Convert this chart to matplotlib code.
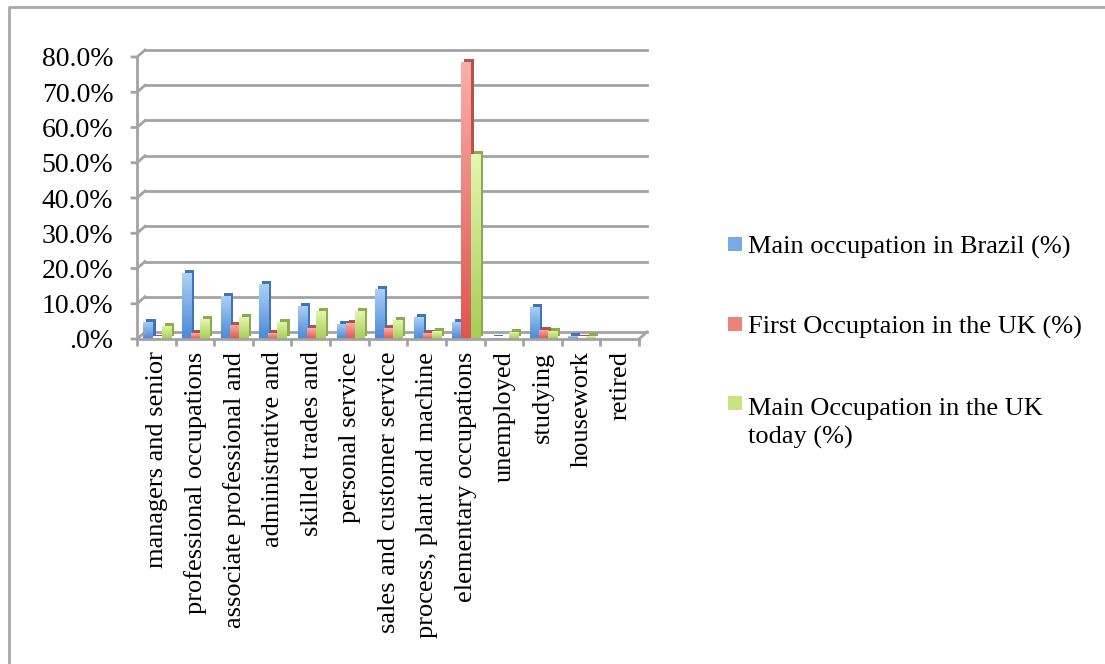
import matplotlib
matplotlib.use("Agg")
import matplotlib.pyplot as plt
import matplotlib.transforms as mtransforms
import numpy as np
from matplotlib.colors import LinearSegmentedColormap
from matplotlib.lines import Line2D
from matplotlib.patches import Rectangle

categories = [
    "managers and senior",
    "professional occupations",
    "associate professional and",
    "administrative and",
    "skilled trades and",
    "personal service",
    "sales and customer service",
    "process, plant and machine",
    "elementary occupations",
    "unemployed",
    "studying",
    "housework",
    "retired",
]
brazil_main = [4.9, 18.7, 12.1, 15.6, 9.5, 4.3, 14.2, 6.2, 4.9, 0.4, 9.1, 0.8, 0.1]
uk_first = [0.2, 1.6, 4.0, 1.6, 3.0, 4.6, 3.0, 1.6, 78.6, 0.1, 2.6, 0.2, 0.1]
uk_today = [3.8, 5.6, 6.2, 4.9, 8.0, 8.0, 5.3, 2.2, 52.6, 2.0, 2.4, 0.8, 0.1]

series_names = [
    "Main occupation in Brazil (%)",
    "First Occuptaion in the UK (%)",
    "Main Occupation in the UK\ntoday (%)",
]
y_ticks = [0, 10, 20, 30, 40, 50, 60, 70, 80]
y_labels = [".0%", "10.0%", "20.0%", "30.0%", "40.0%", "50.0%", "60.0%", "70.0%", "80.0%"]

FACE = ["#78aae6", "#ec837b", "#c9e384"]
TOP = ["#acd0f7", "#fbaea8", "#e4f6ae"]
BOTTOM = ["#4a89d6", "#dc564f", "#a8cc58"]
SIDE = ["#3f74b8", "#b9504a", "#8cab4a"]
GRID = "#a3a3a3"
SERIF = ["Liberation Serif", "DejaVu Serif"]

W, H = 1105, 664
fig = plt.figure(figsize=(W / 100, H / 100), dpi=100)
ax = fig.add_axes([137 / W, (H - 339) / H, 502 / W, 282 / H])
n = len(categories)
ax.set_xlim(0, n)
ax.set_ylim(0, 80)
for s in ax.spines.values():
    s.set_visible(False)

# back wall, shifted up/right like the 3d chart
DX, DY = 8, 7
back = mtransforms.offset_copy(ax.transData, fig=fig, x=DX, y=DY, units="dots")
for t in y_ticks:
    ax.plot([0, n], [t, t], color=GRID, lw=2, transform=back, clip_on=False, zorder=1)
    x0, y0 = ax.transData.transform((0, t))
    fig.add_artist(Line2D([x0 - 5, x0, x0 + DX], [y0, y0, y0 + DY], color=GRID, lw=2,
                          transform=mtransforms.IdentityTransform()))
x0, yb = ax.transData.transform((0, 0))
_, yt = ax.transData.transform((0, 80))
fig.add_artist(Line2D([x0, x0], [yb, yt], color=GRID, lw=2, transform=mtransforms.IdentityTransform()))
# floor front edge and right side
ax.plot([0, n], [0, 0], color=GRID, lw=2, clip_on=False, zorder=20)
xr, _ = ax.transData.transform((n, 0))
fig.add_artist(Line2D([xr, xr + DX], [yb, yb + DY], color=GRID, lw=2,
                      transform=mtransforms.IdentityTransform()))

# bars with a dark side face and a vertical gradient on the front face
xs = [i + 0.52 for i in range(n)]
width = 0.235
side = mtransforms.offset_copy(ax.transData, fig=fig, x=3, y=3, units="dots")
grad = np.linspace(1, 0, 64).reshape(-1, 1)
for k, vals in enumerate([brazil_main, uk_first, uk_today]):
    pos = [x + (k - 1) * width for x in xs]
    ax.bar(pos, vals, width, color=SIDE[k], transform=side, zorder=2 + 3 * k, clip_on=False)
    bars = ax.bar(pos, vals, width, color=FACE[k], zorder=3 + 3 * k, clip_on=False)
    cmap = LinearSegmentedColormap.from_list(f"g{k}", [BOTTOM[k], TOP[k]])
    for b in bars:
        h = b.get_height()
        if h <= 0:
            continue
        im = ax.imshow(grad, cmap=cmap, vmin=0, vmax=1, aspect="auto",
                       extent=[b.get_x(), b.get_x() + b.get_width(), 0, h],
                       zorder=4 + 3 * k, interpolation="bilinear")
        im.set_clip_path(b)
ax.set_xlim(0, n)
ax.set_ylim(0, 80)

# axes ticks and labels
ax.set_yticks(y_ticks)
ax.set_yticklabels(y_labels, family=SERIF, fontsize=20)
ax.tick_params(axis="y", length=0, pad=17)
ax.set_xticks(range(n + 1))
ax.set_xticklabels([])
ax.tick_params(axis="x", which="major", length=5, width=2, color=GRID)
ax.set_xticks(xs, minor=True)
ax.set_xticklabels(categories, minor=True, rotation=90, family=SERIF, fontsize=19)
ax.tick_params(axis="x", which="minor", length=0, pad=9)

# legend drawn by hand to match the spacing
rows = [(247, 244, "center"), (327, 324, "center"), (398, 403, "top")]
for k, (ty, sy, va) in enumerate(rows):
    fig.add_artist(Rectangle((728 / W, (H - sy - 7) / H), 14 / W, 14 / H, facecolor=FACE[k],
                             edgecolor="none", transform=fig.transFigure))
    fig.text(748 / W, (H - ty) / H, series_names[k], family=SERIF, fontsize=19,
             va=va, ha="left", linespacing=1.32, transform=fig.transFigure)

# outer chart border (only top and left visible)
fig.add_artist(Line2D([9 / W, 9 / W, 1], [0, (H - 7) / H, (H - 7) / H], color="#a8a8a8", lw=2,
                      transform=fig.transFigure))

fig.savefig("out.png", dpi=100)
